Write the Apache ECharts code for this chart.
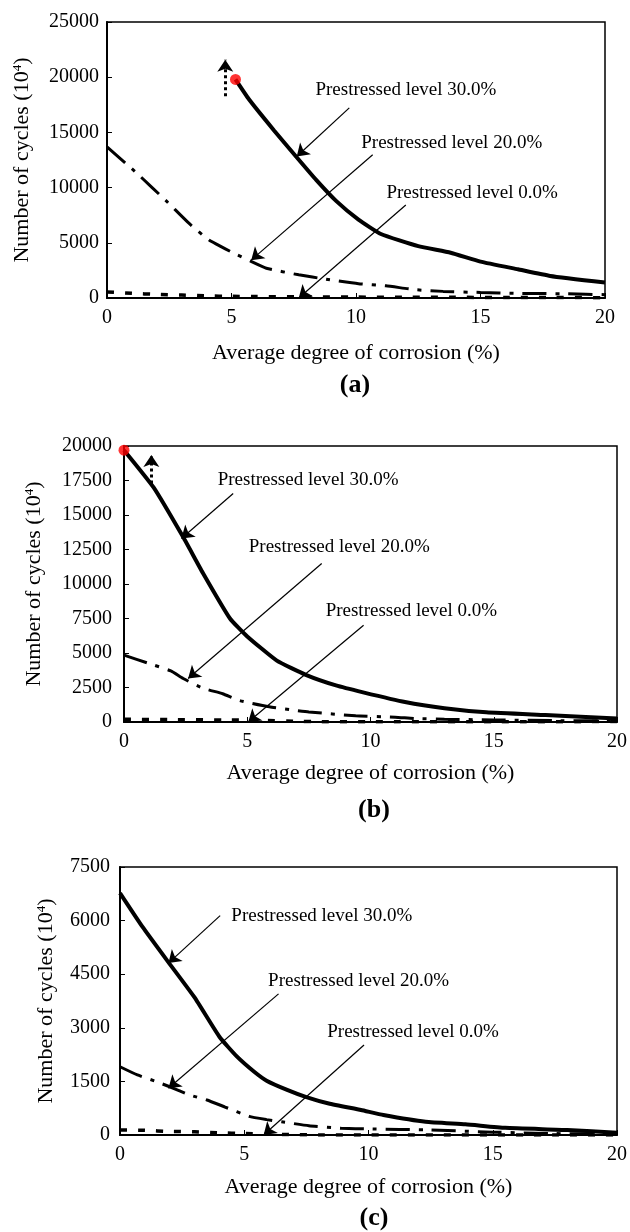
<!DOCTYPE html>
<html><head><meta charset="utf-8">
<script src="https://cdn.jsdelivr.net/npm/echarts@6/dist/echarts.min.js"></script>
<style>html,body{margin:0;padding:0;background:#fff}#c{width:630px;height:1232px}</style>
</head><body><div id="c"></div>
<script>
// ---------- data ----------
const xTicks = [0, 5, 10, 15, 20];
const aYTicks = [0, 5000, 10000, 15000, 20000, 25000];
const bYTicks = [0, 2500, 5000, 7500, 10000, 12500, 15000, 17500, 20000];
const cYTicks = [0, 1500, 3000, 4500, 6000, 7500];

const seriesNames = ['Prestressed level 30.0%', 'Prestressed level 20.0%', 'Prestressed level 0.0%'];

// Panel (a)
const a30X = [5.16, 5.7, 6.7, 7.6, 8.4, 9.2, 10.1, 11.0, 12.5, 13.8, 15.0, 16.5, 17.8, 20];
const a30Y = [19800, 18000, 15200, 12800, 10700, 8800, 7100, 5800, 4700, 4100, 3300, 2600, 2000, 1400];
const a20X = [0, 1.2, 2.4, 3.3, 4.1, 5.1, 5.75, 6.4, 7.7, 8.8, 10.1, 11.2, 12.4, 13.5, 15, 16.5, 18.5, 20];
const a20Y = [13700, 11300, 8750, 6750, 5250, 4050, 3360, 2700, 2100, 1700, 1300, 1100, 750, 600, 500, 420, 380, 300];
const a0X = [0, 1, 2, 3, 4, 5, 6, 8, 10, 12, 14, 16, 18, 20];
const a0Y = [550, 420, 330, 270, 190, 150, 130, 100, 80, 70, 60, 50, 40, 30];
const aRed = [5.16, 19800];

// Panel (b)
const b30X = [0, 1.2, 2.4, 3.2, 4.3, 5.0, 6.2, 7.4, 8.6, 9.7, 11.4, 13, 14.7, 17.1, 20];
const b30Y = [19700, 17000, 13400, 10800, 7500, 6200, 4450, 3400, 2650, 2150, 1450, 1000, 700, 500, 250];
const b20X = [0, 1, 1.9, 2.4, 3.2, 4.0, 4.7, 5.9, 6.7, 7.5, 9.4, 11.0, 11.8, 13, 15, 17.5, 20];
const b20Y = [4850, 4250, 3700, 3150, 2450, 2050, 1550, 1100, 900, 730, 450, 350, 250, 200, 150, 100, 80];
const b0X = [0, 2, 4, 5.5, 7, 8, 10, 15, 20];
const b0Y = [200, 170, 150, 120, 50, 20, 10, 20, 30];
const bRed = [0, 19700];

// Panel (c)
const c30X = [0, 0.9, 1.9, 3.0, 4.0, 4.7, 5.4, 5.9, 6.7, 7.5, 8.4, 9.7, 10.6, 12.3, 13.9, 15.5, 18, 20];
const c30Y = [6770, 5830, 4880, 3850, 2750, 2200, 1770, 1520, 1270, 1060, 880, 700, 560, 370, 300, 200, 140, 60];
const c20X = [0, 0.7, 1.4, 2.0, 2.8, 3.5, 4.2, 5.2, 5.9, 6.5, 7.6, 8.9, 10, 12.5, 15, 17.5, 20];
const c20Y = [1910, 1680, 1510, 1350, 1120, 980, 790, 520, 430, 370, 260, 190, 170, 140, 80, 40, 30];
const c0X = [0, 1, 2, 3, 4, 5, 6, 7, 8, 20];
const c0Y = [140, 130, 100, 90, 60, 40, 20, 10, 0, 0];

// annotation anchors (data space): label anchor, arrow start, arrow tip
const aLabelAt = [[8.35, 18880], [10.19, 14040], [11.2, 9550]];
const aArrows = [[[9.73, 17220], [7.62, 12820]], [[10.67, 12970], [5.79, 3430]], [[12.0, 8430], [7.7, 0]]];
const aUp = [[4.75, 18270], [4.75, 21580]];
const bLabelAt = [[3.78, 17530], [5.04, 12690], [8.16, 8050]];
const bArrows = [[[4.43, 16560], [2.33, 13300]], [[8.02, 11490], [2.6, 3150]], [[9.72, 7010], [5.04, 0]]];
const bUp = [[1.11, 17290], [1.11, 19340]];
const cLabelAt = [[4.46, 6130], [5.94, 4310], [8.32, 2890]];
const cArrows = [[[4.03, 6140], [1.95, 4810]], [[6.38, 3950], [1.95, 1310]], [[9.82, 2520], [5.78, 0]]];

// ---------- chart ----------
const FONT = 'Liberation Serif';
const zip = (xs, ys) => xs.map((x, i) => [x, ys[i]]);
const chart = echarts.init(document.getElementById('c'), null, {renderer: 'canvas'});

const grids = [
  {left: 107, top: 22, width: 498, height: 276},
  {left: 124, top: 446, width: 494, height: 276},
  {left: 120, top: 867, width: 497, height: 268}
];
const yTicksAll = [aYTicks, bYTicks, cYTicks];
const yNameGap = [74, 79, 63];
const xNameGap = [44, 40, 41];
const yLabelMargin = [8, 12, 10];

function xAxis(i) {
  return {
    type: 'value', gridIndex: i, min: xTicks[0], max: xTicks[xTicks.length - 1],
    interval: xTicks[1] - xTicks[0],
    name: 'Average degree of corrosion (%)', nameLocation: 'middle', nameGap: xNameGap[i],
    nameTextStyle: {fontFamily: FONT, fontSize: 22, color: '#000'},
    axisLine: {show: true, onZero: false, lineStyle: {color: '#000', width: 2}},
    axisTick: {show: true, inside: true, length: 5, lineStyle: {color: '#000', width: 1}},
    axisLabel: {fontFamily: FONT, fontSize: 20, color: '#000', margin: 10, formatter: v => String(v)},
    splitLine: {show: false}
  };
}
function yAxis(i) {
  const t = yTicksAll[i];
  return {
    type: 'value', gridIndex: i, min: t[0], max: t[t.length - 1], interval: t[1] - t[0],
    name: '{t|Number of cycles (10}{s|4}{t|)}', nameLocation: 'middle', nameGap: yNameGap[i], nameRotate: 90,
    nameTextStyle: {
      color: '#000',
      rich: {
        t: {fontFamily: FONT, fontSize: 22, color: '#000'},
        s: {fontFamily: FONT, fontSize: 13, color: '#000', verticalAlign: 'top', padding: [0, 0, 8, 0]}
      }
    },
    axisLine: {show: true, onZero: false, lineStyle: {color: '#000', width: 2}},
    axisTick: {show: true, inside: true, length: 5, lineStyle: {color: '#000', width: 1}},
    axisLabel: {fontFamily: FONT, fontSize: 20, color: '#000', margin: yLabelMargin[i], formatter: v => String(v)},
    splitLine: {show: false}
  };
}

const solid = {color: '#000', width: 4, type: 'solid'};
const dashDot = {color: '#000', width: 3, type: [24, 9, 4, 9]};
const dotted = {color: '#000', width: 3.5, type: [7, 11]};

function annotations(labelAt, arrows, up) {
  const mp = {
    symbol: 'rect', symbolSize: 1, silent: true,
    itemStyle: {color: 'rgba(0,0,0,0)'},
    label: {show: true, position: 'right', distance: 0, fontFamily: FONT, fontSize: 19, color: '#000'},
    data: labelAt.map((p, k) => ({coord: p, label: {formatter: seriesNames[k]}}))
  };
  const mlData = arrows.map(a => [{coord: a[0]}, {coord: a[1]}]);
  const ml = {
    silent: true, symbol: ['none', 'arrow'], symbolSize: 12, animation: false,
    label: {show: false}, emphasis: {disabled: true},
    lineStyle: {color: '#000', width: 1.2, type: 'solid'},
    data: mlData
  };
  if (up) {
    ml.data.push([{coord: up[0], lineStyle: {type: [3, 3], width: 3}}, {coord: up[1]}]);
  }
  return {markPoint: mp, markLine: ml};
}

function lineSeries(i, xs, ys, style, extra) {
  return Object.assign({
    type: 'line', xAxisIndex: i, yAxisIndex: i, data: zip(xs, ys),
    showSymbol: false, symbol: 'none', lineStyle: style, smooth: 0.15,
    animation: false, silent: true, z: 3
  }, extra || {});
}
function redDot(i, p) {
  return {type: 'scatter', xAxisIndex: i, yAxisIndex: i, data: [p], symbol: 'circle', symbolSize: 11,
    itemStyle: {color: '#f00'}, clip: false, animation: false, silent: true, z: 5};
}

const series = [
  lineSeries(0, a30X, a30Y, solid, annotations(aLabelAt, aArrows, aUp)),
  lineSeries(0, a20X, a20Y, dashDot),
  lineSeries(0, a0X, a0Y, dotted),
  redDot(0, aRed),
  lineSeries(1, b30X, b30Y, solid, annotations(bLabelAt, bArrows, bUp)),
  lineSeries(1, b20X, b20Y, dashDot),
  lineSeries(1, b0X, b0Y, dotted),
  redDot(1, bRed),
  lineSeries(2, c30X, c30Y, solid, annotations(cLabelAt, cArrows, null)),
  lineSeries(2, c20X, c20Y, dashDot),
  lineSeries(2, c0X, c0Y, dotted)
];

const panelLabels = [
  {text: '(a)', x: 355, y: 385},
  {text: '(b)', x: 374, y: 810},
  {text: '(c)', x: 374, y: 1218}
];

chart.setOption({
  backgroundColor: '#fff',
  animation: false,
  grid: grids.map(g => Object.assign({show: true, borderColor: '#000', borderWidth: 1.5, backgroundColor: 'transparent'}, g)),
  xAxis: [0, 1, 2].map(xAxis),
  yAxis: [0, 1, 2].map(yAxis),
  series: series,
  graphic: panelLabels.map(l => ({
    type: 'text', x: l.x, y: l.y, silent: true,
    style: {text: l.text, fontFamily: FONT, fontSize: 26, fontWeight: 'bold', fill: '#000', align: 'center', verticalAlign: 'middle'}
  }))
});
</script>
</body></html>
